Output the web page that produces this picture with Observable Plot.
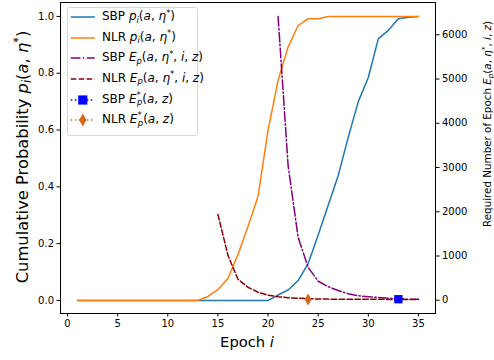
<!DOCTYPE html>
<html><head><meta charset="utf-8">
<script src="https://cdn.jsdelivr.net/npm/d3@7"></script>
<script src="https://cdn.jsdelivr.net/npm/@observablehq/plot@0.6"></script>
<style>
body{margin:0;background:#fff;font-family:"DejaVu Sans",sans-serif;}
#c{position:relative;width:494px;height:360px;overflow:hidden;}
#c svg.pl{position:absolute;left:0;top:0;}
.lab{position:absolute;white-space:nowrap;color:#000;line-height:1;}
.lab sub,.lab sup,.leg sub,.leg sup{font-size:70%;line-height:0;position:relative;vertical-align:baseline;}
.lab sup,.leg sup{top:-0.55em;}
.lab sub,.leg sub{top:0.3em;}
.rot{transform:translate(-50%,-50%) rotate(-90deg);}
#legend{position:absolute;left:66.5px;top:7px;width:131px;height:129px;border:1px solid #d6d6d6;border-radius:3px;background:rgba(255,255,255,0.8);box-sizing:border-box;}
.row{position:absolute;left:0;height:20px;width:131px;}
.row svg{position:absolute;left:2px;top:0;}
.leg{position:absolute;left:34.5px;top:3px;font-size:12px;white-space:nowrap;line-height:1;}
</style></head><body><div id="c"></div>
<script>
// ---- data ----
const epochs = [1,2,3,4,5,6,7,8,9,10,11,12,13,14,15,16,17,18,19,20,21,22,23,24,25,26,27,28,29,30,31,32,33,34,35];
const sbpP = [0,0,0,0,0,0,0,0,0,0,0,0,0,0,0,0,0,0,0,0,0.019,0.037,0.07,0.13,0.23,0.335,0.44,0.575,0.70,0.785,0.922,0.951,0.992,0.997,1.0];
const nlrP = [0,0,0,0,0,0,0,0,0,0,0,0,0,0.014,0.038,0.077,0.162,0.26,0.366,0.60,0.775,0.892,0.968,0.992,0.992,1,1,1,1,1,1,1,1,1,1];
const sbpEpochs = [21,22,23,24,25,26,27,28,29,30,31,32,33,34,35];
const sbpE = [6413,3045,1421,744,429,305,219,147,101,79,61,45,32,23,23];
const nlrEpochs = [15,16,17,18,19,20,21,22,23,24,25,26,27,28,29,30,31,32,33,34,35];
const nlrE = [1940,1015,474,293,180,113,79,56,45,34,28,25,23,22,21,20,20,19,19,18,18];
const sbpEstar = {epoch:33, value:23};
const nlrEstar = {epoch:24, value:16};
const xTicks = [0,5,10,15,20,25,30,35];
const leftTicks = [0,0.2,0.4,0.6,0.8,1.0];
const rightTicks = [0,1000,2000,3000,4000,5000,6000];

const C = {sbp:"#1f77b4", nlr:"#ff7f0e", sbpE:"#800080", nlrE:"#8b0000", sq:"#0000ff", dia:"#d2691e"};
const common = {
  width:494, height:360, marginLeft:60, marginRight:59, marginTop:2, marginBottom:47,
  style:{fontFamily:"DejaVu Sans", fontSize:"10px", color:"#000", background:"transparent", overflow:"visible"}
};
const xs = {domain:[-0.7,36.7]};

const p1 = Plot.plot({
  ...common,
  x:{...xs},
  y:{domain:[-0.046,1.049]},
  marks:[
    Plot.axisX({ticks:xTicks, tickSize:3.5, tickPadding:3, label:null, fontSize:10}),
    Plot.axisY({ticks:leftTicks, tickSize:3.5, tickPadding:3, tickFormat:d3.format(".1f"), label:null, fontSize:10}),
    Plot.line(epochs.map((e,i)=>({e, v:sbpP[i]})), {x:"e", y:"v", stroke:C.sbp, strokeWidth:1.5}),
    Plot.line(epochs.map((e,i)=>({e, v:nlrP[i]})), {x:"e", y:"v", stroke:C.nlr, strokeWidth:1.5}),
    Plot.frame({stroke:"#000", strokeWidth:1})
  ]
});
const p2 = Plot.plot({
  ...common,
  x:{...xs, axis:null},
  y:{domain:[-300,6730]},
  marks:[
    Plot.axisY({anchor:"right", ticks:rightTicks, tickSize:3.5, tickPadding:3, tickFormat:d=>String(d), label:null, fontSize:10}),
    Plot.line(sbpEpochs.map((e,i)=>({e, v:sbpE[i]})), {x:"e", y:"v", stroke:C.sbpE, strokeWidth:1.5, strokeDasharray:"9.6,2.4,1.5,2.4"}),
    Plot.line(nlrEpochs.map((e,i)=>({e, v:nlrE[i]})), {x:"e", y:"v", stroke:C.nlrE, strokeWidth:1.5, strokeDasharray:"5.5,2.4"}),
    Plot.dot([sbpEstar], {x:"epoch", y:"value", symbol:"square", r:4.7, fill:C.sq}),
    Plot.dot([nlrEstar], {x:"epoch", y:"value", symbol:"diamond", r:3.7, fill:C.dia})
  ]
});
const c = document.getElementById("c");
p1.classList.add("pl"); p2.classList.add("pl");
c.appendChild(p1); c.appendChild(p2);

// label with font size fitted so its text length matches the reference
function label(html, x, y, size, rot, targetLen){
  const d = document.createElement("div");
  d.className = "lab" + (rot ? " rot" : "");
  d.style.left = x+"px"; d.style.top = y+"px"; d.style.fontSize = size+"px";
  if(!rot) d.style.transform = "translate(-50%,-50%)";
  d.innerHTML = html; c.appendChild(d);
  if(targetLen){
    const w = d.offsetWidth;
    if(w > 0){
      const s = Math.max(size*0.8, Math.min(size*1.2, size*targetLen/w));
      d.style.fontSize = s+"px";
    }
  }
}
label('Epoch <i>i</i>', 247, 342, 15, false, 54);
label('Cumulative Probability <i>p<sub>i</sub></i>(<i>a</i>, <i>η</i><sup>*</sup>)', 23, 157, 15.5, true, 253);
label('Required Number of Epoch <i>E<sub>p</sub></i>(<i>a</i>, <i>η</i><sup>*</sup>, <i>i</i>, <i>z</i>)', 487, 124, 10.5, true, 206);

// legend
const entries = [
  {color:C.sbp, dash:null, marker:null, html:'SBP <i>p<sub>i</sub></i>(<i>a</i>, <i>η</i><sup>*</sup>)'},
  {color:C.nlr, dash:null, marker:null, html:'NLR <i>p<sub>i</sub></i>(<i>a</i>, <i>η</i><sup>*</sup>)'},
  {color:C.sbpE, dash:"9.6,2.4,1.5,2.4", marker:null, html:'SBP <i>E<sub>p</sub></i>(<i>a</i>, <i>η</i><sup>*</sup>, <i>i</i>, <i>z</i>)'},
  {color:C.nlrE, dash:"5.5,2.4", marker:null, html:'NLR <i>E<sub>p</sub></i>(<i>a</i>, <i>η</i><sup>*</sup>, <i>i</i>, <i>z</i>)'},
  {color:C.sq, dash:"1.5,2.5", marker:"square", html:'SBP <i>E</i><sup>*</sup><sub style="margin-left:-0.45em"><i>p</i></sub>(<i>a</i>, <i>z</i>)'},
  {color:C.dia, dash:"1.5,2.5", marker:"diamond", html:'NLR <i>E</i><sup>*</sup><sub style="margin-left:-0.45em"><i>p</i></sub>(<i>a</i>, <i>z</i>)'}
];
const leg = document.createElement("div"); leg.id = "legend"; c.appendChild(leg);
entries.forEach((en,i)=>{
  const row = document.createElement("div"); row.className="row";
  row.style.top = (-0.7 + i*20.55) + "px";
  const s = d3.create("svg").attr("width",30).attr("height",20);
  s.append("line").attr("x1",0.8).attr("x2",24.8).attr("y1",10).attr("y2",10)
    .attr("stroke",en.color).attr("stroke-width",1.5).attr("stroke-dasharray",en.dash);
  if(en.marker==="square") s.append("rect").attr("x",12.8-4.6).attr("y",10-4.6).attr("width",9.2).attr("height",9.2).attr("fill",en.color);
  if(en.marker==="diamond") s.append("path").attr("d",d3.symbol(d3.symbolDiamond, 3.9*3.9*Math.PI)()).attr("transform","translate(12.8,10)").attr("fill",en.color);
  row.appendChild(s.node());
  const t = document.createElement("div"); t.className="leg"; t.innerHTML = en.html;
  row.appendChild(t);
  leg.appendChild(row);
});
</script></body></html>
